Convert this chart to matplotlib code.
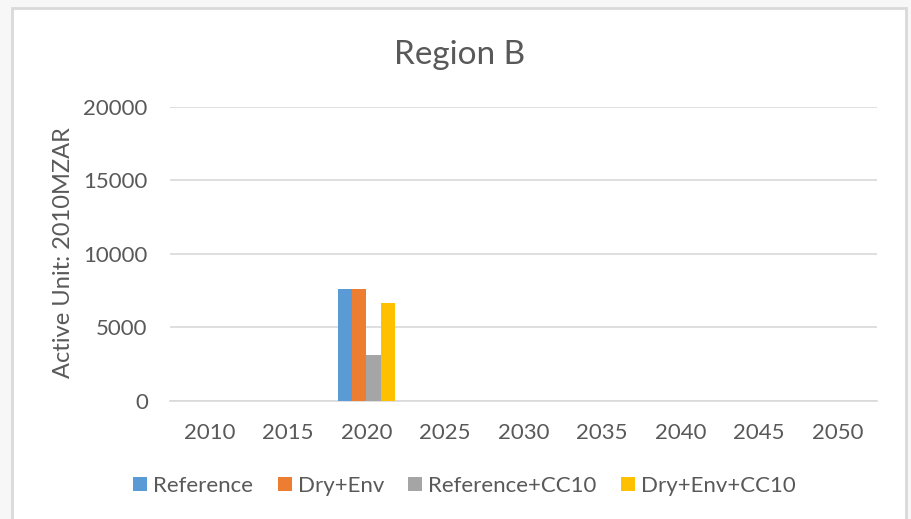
import matplotlib
matplotlib.use('Agg')
import matplotlib.pyplot as plt
from matplotlib.patches import Rectangle
import numpy as np

# chart data
years = ['2010', '2015', '2020', '2025', '2030', '2035', '2040', '2045', '2050']
series_names = ['Reference', 'Dry+Env', 'Reference+CC10', 'Dry+Env+CC10']
reference = [0, 0, 7600, 0, 0, 0, 0, 0, 0]
dry_env = [0, 0, 7600, 0, 0, 0, 0, 0, 0]
reference_cc10 = [0, 0, 3100, 0, 0, 0, 0, 0, 0]
dry_env_cc10 = [0, 0, 6650, 0, 0, 0, 0, 0, 0]
yticks = [0, 5000, 10000, 15000, 20000]

colors = ['#5B9BD5', '#ED7D31', '#A5A5A5', '#FFC000']
text_color = '#595959'
grid_color = '#D9D9D9'

plt.rcParams['font.family'] = ['Lato', 'DejaVu Sans']

fig = plt.figure(figsize=(9.11, 5.19), dpi=100)
fig.patch.set_facecolor('#F7F7F7')

# white chart area with light border
frame = Rectangle((12 / 911, -0.02), (906 - 12) / 911, (519 - 8) / 519 + 0.02,
                  transform=fig.transFigure, facecolor='white',
                  edgecolor='#D9D9D9', linewidth=2, zorder=-10)
fig.patches.append(frame)

ax = fig.add_axes([170 / 911, 1 - 401 / 519, (877 - 170) / 911, (401 - 106.7) / 519])
ax.set_facecolor('none')
ax.set_zorder(1)

x = np.arange(len(years))
w = 1 / 5.5
all_series = [reference, dry_env, reference_cc10, dry_env_cc10]
for i, (vals, name) in enumerate(zip(all_series, series_names)):
    ax.bar(x + (i - 1.5) * w, vals, width=w, color=colors[i], label=name, zorder=3)

ax.set_xlim(-0.5, len(years) - 0.5)
ax.set_ylim(0, 20000)
ax.set_yticks(yticks)
ax.set_xticks(x)
ax.set_xticklabels(years)
ax.tick_params(length=0, labelsize=16, labelcolor=text_color)
ax.tick_params(axis='y', pad=16)
ax.tick_params(axis='x', pad=16)
ax.grid(axis='y', color=grid_color, linewidth=1.2, zorder=0)
for s in ['top', 'right', 'left']:
    ax.spines[s].set_visible(False)
ax.spines['bottom'].set_color(grid_color)
ax.spines['bottom'].set_linewidth(1.2)

ax.set_ylabel('Active Unit: 2010MZAR', fontsize=17, color=text_color)
ax.yaxis.set_label_coords(-0.136, 0.503)
fig.text(0.505, 1 - 55 / 519, 'Region B', fontsize=24, color=text_color,
         ha='center', va='center')

fig.legend(loc='center', bbox_to_anchor=(0.51, 1 - 486 / 519), ncol=4,
           frameon=False, fontsize=16, labelcolor=text_color,
           handlelength=0.63, handleheight=0.63, handletextpad=0.27,
           columnspacing=1.1)

fig.savefig('out.png', dpi=100, facecolor=fig.get_facecolor())
